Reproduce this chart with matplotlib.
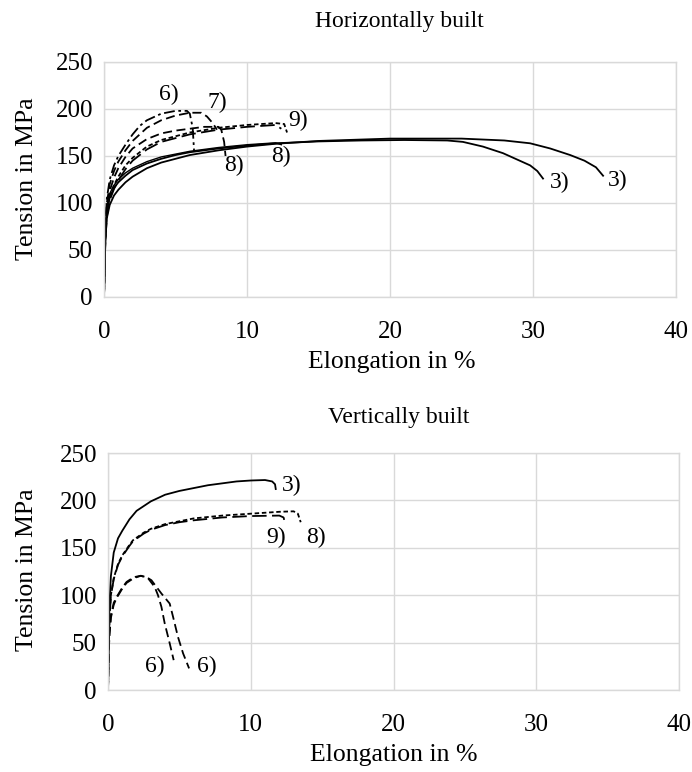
import matplotlib
matplotlib.use('Agg')
import matplotlib.pyplot as plt

plt.rcParams['font.family'] = ['Liberation Serif', 'DejaVu Serif']
plt.rcParams['font.size'] = 18

# ---- Horizontally built ----
h3a_x = [0, 0.05, 0.1, 0.2, 0.4, 0.7, 1, 1.5, 2, 3, 4, 5, 6, 8, 10, 12, 15, 18, 21, 24, 25.1, 26.5, 27.9, 29.8, 30.3, 30.7]
h3a_y = [0, 40, 70, 92, 106, 116, 122, 129, 135, 142, 147, 151, 154, 158, 161, 163.5, 165.5, 166.5, 167, 166.5, 165, 160, 153, 140, 134, 126]
h3b_x = [0, 0.05, 0.1, 0.2, 0.4, 0.7, 1, 1.5, 2, 3, 4, 6, 8, 10, 12, 15, 20, 25, 28, 29.8, 31.2, 32.6, 33.6, 34.4, 34.9]
h3b_y = [0, 35, 62, 84, 98, 108, 114, 122, 128, 137, 143, 151, 156, 160, 163, 166, 168.5, 168.5, 166.5, 163.5, 158, 151, 145, 138, 129]
h8b_x = [0, 0.05, 0.1, 0.2, 0.4, 0.7, 1, 1.5, 2, 3, 4, 6, 8, 10, 12, 12.4]
h8b_y = [0, 42, 74, 96, 110, 119, 125, 132, 137, 144, 149, 155, 159, 162, 164, 162]
h6_x = [0, 0.05, 0.1, 0.2, 0.4, 0.7, 1, 1.5, 2, 2.5, 3, 4, 5, 5.8, 6.0, 6.2, 6.3]
h6_y = [0, 45, 80, 105, 125, 140, 150, 162, 173, 182, 188, 195, 198, 198, 195, 180, 155]
h7_x = [0, 0.05, 0.1, 0.2, 0.4, 0.7, 1, 1.5, 2, 3, 4, 5, 6, 6.8, 7.2, 7.6, 7.9]
h7_y = [0, 40, 75, 100, 120, 134, 144, 156, 166, 180, 188, 193, 196, 196, 192, 185, 178]
h8a_x = [0, 0.05, 0.1, 0.2, 0.4, 0.7, 1, 1.5, 2, 3, 4, 5, 6, 7, 8, 8.2, 8.4, 8.5]
h8a_y = [0, 40, 70, 95, 113, 127, 137, 149, 158, 168, 174, 177, 179, 181, 181, 178, 165, 150]
h9_x = [0, 0.05, 0.1, 0.2, 0.4, 0.7, 1, 1.5, 2, 3, 4, 6, 8, 10, 12, 12.6, 12.8]
h9_y = [0, 38, 65, 90, 107, 119, 128, 140, 148, 160, 167, 175, 180, 183, 185, 184, 175]
h9b_x = [0, 0.05, 0.1, 0.2, 0.4, 0.7, 1, 1.5, 2, 3, 4, 6, 8, 10, 12, 12.4]
h9b_y = [0, 36, 62, 86, 103, 115, 124, 136, 145, 157, 165, 173, 178, 181, 183, 179]

h_labels = ['6)', '7)', '9)', '8)', '8)', '3)', '3)']
h_label_x = [4.5, 7.95, 13.6, 9.1, 12.4, 31.9, 35.9]
h_label_y = [215, 207, 188, 140, 149, 122, 124]

# ---- Vertically built ----
v3_x = [0, 0.05, 0.1, 0.2, 0.4, 0.7, 1, 1.5, 2, 3, 4, 5, 6, 7, 8, 9, 10, 11, 11.5, 11.7, 11.75]
v3_y = [0, 50, 90, 120, 145, 160, 168, 180, 189, 199, 206, 210, 213, 216, 218, 220, 221, 221.5, 220, 217, 212]
v8_x = [0, 0.05, 0.1, 0.2, 0.4, 0.7, 1, 1.5, 1.75, 2.5, 3, 4, 5, 6, 8, 10, 12, 13, 13.3, 13.5]
v8_y = [0, 45, 75, 100, 118, 133, 142, 153, 158, 166, 170, 175, 178, 181, 184, 186, 188, 188.5, 186, 177]
v9_x = [0, 0.05, 0.1, 0.2, 0.4, 0.7, 1, 1.5, 1.75, 2.5, 3, 4, 5, 6, 8, 10, 12, 12.3, 12.4]
v9_y = [0, 44, 74, 99, 117, 132, 141, 152, 157, 165, 169, 174, 177, 179, 182, 183.5, 184, 182, 176]
v6a_x = [0, 0.05, 0.1, 0.2, 0.4, 0.6, 1, 1.3, 1.8, 2.3, 2.8, 3.27, 3.5, 3.74, 3.97, 4.32, 4.6]
v6a_y = [0, 40, 60, 78, 92, 98, 108, 114, 119, 120.5, 118, 108.7, 100, 87.7, 70.4, 49.3, 31.5]
v6b_x = [0, 0.05, 0.1, 0.2, 0.4, 0.6, 1, 1.3, 1.8, 2.3, 2.7, 3.04, 3.74, 4.32, 4.56, 4.9, 5.26, 5.68]
v6b_y = [0, 38, 58, 76, 90, 97, 107, 113, 118, 120.5, 119, 115.8, 101.8, 91.2, 77, 56, 38.6, 22.8]

v_labels = ['3)', '9)', '8)', '6)', '6)']
v_label_x = [12.85, 11.8, 14.6, 3.27, 6.9]
v_label_y = [216, 161, 161, 24.5, 24.5]

xticks = [0, 10, 20, 30, 40]
yticks = [0, 50, 100, 150, 200, 250]

dash = (0, (5, 2.5))
short = (0, (2.5, 1.5))
longd = (0, (8, 3))
dashdot = (0, (6, 2, 1.5, 2))

fig = plt.figure(figsize=(6.92, 7.72), dpi=100)
ax1 = fig.add_axes([0.1503, 0.6153, 0.8266, 0.3044])
ax2 = fig.add_axes([0.1561, 0.1062, 0.8251, 0.3070])


def style_axes(ax):
    ax.set_xlim(0, 40)
    ax.set_ylim(0, 250)
    ax.set_xticks(xticks)
    ax.set_yticks(yticks)
    ax.grid(True, color='#d9d9d9', linewidth=1.0)
    ax.set_axisbelow(True)
    for sp in ax.spines.values():
        sp.set_color('#d9d9d9')
        sp.set_linewidth(1.0)
    ax.tick_params(length=0, labelsize=18)
    ax.tick_params(axis='x', pad=17)
    ax.tick_params(axis='y', pad=8)


style_axes(ax1)
lw = 1.3
ax1.plot(h3a_x, h3a_y, color='black', lw=lw)
ax1.plot(h3b_x, h3b_y, color='black', lw=lw)
ax1.plot(h8b_x, h8b_y, color='black', lw=1.0)
ax1.plot(h6_x, h6_y, color='black', lw=lw, linestyle=dashdot)
ax1.plot(h7_x, h7_y, color='black', lw=lw, linestyle=dash)
ax1.plot(h8a_x, h8a_y, color='black', lw=lw, linestyle=dash)
ax1.plot(h9_x, h9_y, color='black', lw=lw, linestyle=short)
ax1.plot(h9b_x, h9b_y, color='black', lw=lw, linestyle=longd)
for t, x, y in zip(h_labels, h_label_x, h_label_y):
    ax1.text(x, y, t, ha='center', va='center', fontsize=17)

style_axes(ax2)
ax2.plot(v3_x, v3_y, color='black', lw=lw)
ax2.plot(v8_x, v8_y, color='black', lw=lw, linestyle=short)
ax2.plot(v9_x, v9_y, color='black', lw=lw, linestyle=longd)
ax2.plot(v6a_x, v6a_y, color='black', lw=lw, linestyle=dash)
ax2.plot(v6b_x, v6b_y, color='black', lw=lw, linestyle=dash)
for t, x, y in zip(v_labels, v_label_x, v_label_y):
    ax2.text(x, y, t, ha='center', va='center', fontsize=17)

fig.text(399 / 692, 1 - 21 / 772, 'Horizontally built', ha='center', va='center', fontsize=17)
fig.text(392 / 692, 1 - 362 / 772, 'Elongation in %', ha='center', va='center', fontsize=18.5)
fig.text(27 / 692, 1 - 179 / 772, 'Tension in MPa', ha='center', va='center', rotation=90, fontsize=18.5)
fig.text(399 / 692, 1 - 417 / 772, 'Vertically built', ha='center', va='center', fontsize=17)
fig.text(394 / 692, 1 - 755 / 772, 'Elongation in %', ha='center', va='center', fontsize=18.5)
fig.text(27 / 692, 1 - 570 / 772, 'Tension in MPa', ha='center', va='center', rotation=90, fontsize=18.5)

fig.savefig('out.png', dpi=100)
